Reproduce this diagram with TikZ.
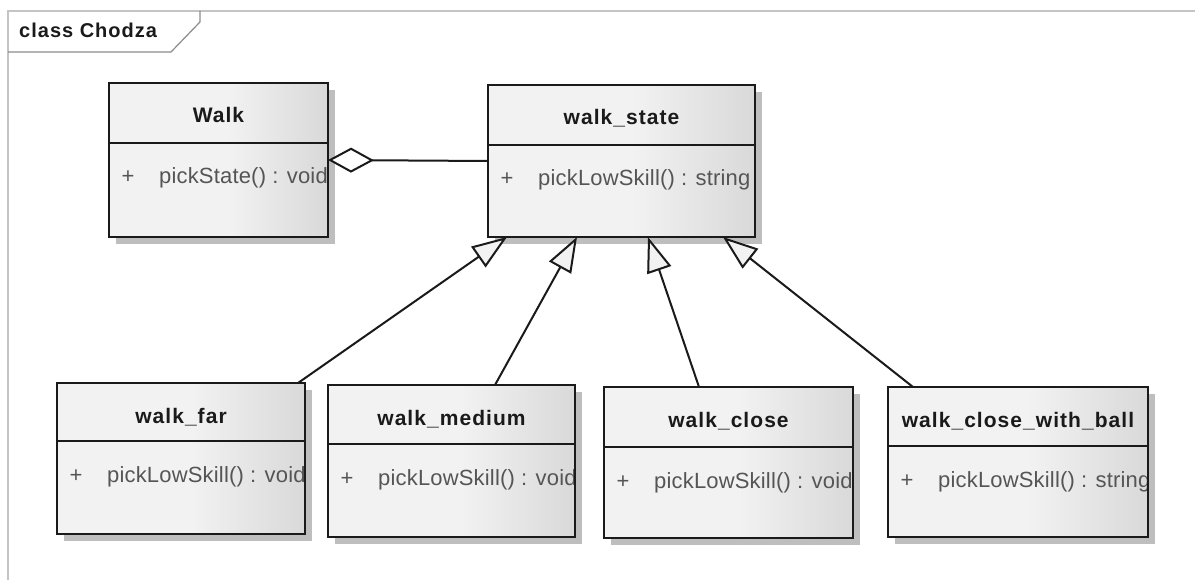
\documentclass[tikz,border=0pt]{standalone}
\usepackage{fontspec}
\setmainfont{Liberation Sans}
\newfontfamily\tfont[LetterSpace=5]{Liberation Sans}
\newfontfamily\mfont[LetterSpace=0.8]{Liberation Sans}
\usetikzlibrary{arrows.meta}
\definecolor{boxL}{HTML}{F2F2F2}
\definecolor{boxR}{HTML}{D9D9D9}
\definecolor{shadowc}{HTML}{BEBEBE}
\definecolor{methc}{HTML}{555555}
\definecolor{framec}{HTML}{C4C4C4}
\definecolor{tabc}{HTML}{8C8C8C}
\definecolor{inkc}{HTML}{1A1A1A}
\pgfdeclarehorizontalshading{boxshade}{100bp}{color(0bp)=(boxL); color(25bp)=(boxL); color(52bp)=(boxL); color(75bp)=(boxR); color(100bp)=(boxR)}
\tikzset{
  classbox/.style={draw=inkc, line width=2pt, inner sep=0pt, outer sep=0pt, anchor=north west},
  titletext/.style={font=\tfont\bfseries\fontsize{21}{24}\selectfont, text=inkc, inner sep=0pt},
  methtext/.style={font=\mfont\fontsize{22}{26}\selectfont, text=methc, inner sep=0pt},
  septext/.style={line width=1.6pt, draw=inkc},
  gen/.style={line width=2pt, draw=inkc, -{Triangle[open, length=35pt, width=25pt, fill=boxL]}},
  agg/.style={line width=2pt, draw=inkc, {Diamond[open, length=46pt, width=25pt, fill=white]}-},
  frametext/.style={font=\tfont\bfseries\fontsize{20}{24}\selectfont, text=inkc, inner sep=0pt, anchor=base west},
}
\newcommand{\umlclass}[8]{%
  \fill[shadowc] (#2+7,#3+7) rectangle (#4+7,#5+7);
  \shade[shading=boxshade] (#2,#3) rectangle (#4,#5);
  \begin{scope}
    \clip (#2,#3) rectangle (#4-1,#5);
    \node[titletext, anchor=base] (#1-t) at ({(#2+#4)/2},#3+40) {#7};
    \node[methtext, anchor=base] (#1-p) at (#2+19,#6+41) {+};
    \node[methtext, anchor=base west] (#1-m) at (#2+50,#6+41) {#8};
  \end{scope}
  \draw[septext] (#2,#6) -- (#4,#6);
  \node[classbox, minimum width=#4-#2, minimum height=#5-#3] (#1) at (#2,#3) {};
}
\begin{document}
\begin{tikzpicture}[x=1pt, y=-1pt]
\useasboundingbox (0,0) rectangle (1195,580);
\fill[white] (0,0) rectangle (1195,580);
% frame
\draw[framec, line width=2pt] (1195,11) -- (8,11) -- (8,580);
\draw[tabc, line width=1.2pt] (200,11) -- (200,22) -- (171,52) -- (8,52);
\node[frametext] (frametitle) at (19,38) {class Chodza};
% classes
\umlclass{walk}{109}{83}{328}{237}{143}{Walk}{pickState() : void}
\umlclass{ws}{488}{85}{755}{237}{145}{walk\_state}{pickLowSkill() : string}
\umlclass{far}{57}{383}{305}{534}{441}{walk\_far}{pickLowSkill() : void}
\umlclass{med}{328}{385}{575}{537}{444}{walk\_medium}{pickLowSkill() : void}
\umlclass{close}{604}{387}{853}{538}{447}{walk\_close}{pickLowSkill() : void}
\umlclass{ball}{888}{387}{1148}{537}{446}{walk\_close\_with\_ball}{pickLowSkill() : string}
% connectors
\draw[agg] (walk.east) -- (ws.west);
\draw[gen] ([xshift=241pt]far.north west) -- ([xshift=19pt]ws.south west);
\draw[gen] ([xshift=167pt]med.north west) -- ([xshift=89pt]ws.south west);
\draw[gen] ([xshift=95pt]close.north west) -- ([xshift=160pt]ws.south west);
\draw[gen] ([xshift=25pt]ball.north west) -- ([xshift=235pt]ws.south west);
\end{tikzpicture}
\end{document}
